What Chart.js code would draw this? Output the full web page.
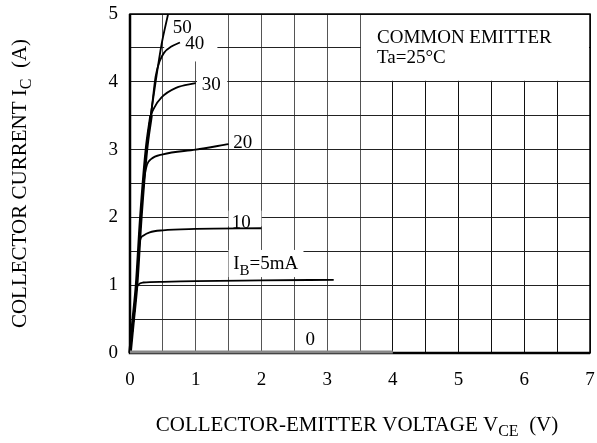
<!DOCTYPE html>
<html>
<head>
<meta charset="utf-8">
<script src="https://cdn.jsdelivr.net/npm/chart.js@4"></script>
<style>
  body { margin: 0; background: #fff; }
  #wrap { width: 597px; height: 443px; }
</style>
</head>
<body>
<div id="wrap"><canvas id="myChart"></canvas></div>
<script>
// collector current curves (V, A)
const ib0V = [0, 4];
const ib0I = [0, 0];
const ib5V = [0, 0.05, 0.1, 0.13, 0.2, 0.5, 1, 2, 3.1];
const ib5I = [0, 0.5, 0.95, 1.01, 1.04, 1.05, 1.06, 1.07, 1.08];
const ib10V = [0, 0.05, 0.1, 0.15, 0.2, 0.3, 0.5, 1, 2];
const ib10I = [0, 0.5, 1, 1.65, 1.73, 1.78, 1.81, 1.83, 1.84];
const ib20V = [0, 0.1, 0.165, 0.22, 0.26, 0.32, 0.5, 1, 1.5];
const ib20I = [0, 1, 2, 2.6, 2.78, 2.86, 2.93, 3.0, 3.08];
const ib30V = [0, 0.1, 0.165, 0.25, 0.32, 0.37, 0.48, 0.7, 1];
const ib30I = [0, 1, 2, 3, 3.5, 3.62, 3.77, 3.91, 3.98];
const ib40V = [0, 0.1, 0.165, 0.25, 0.33, 0.39, 0.45, 0.52, 0.63, 0.76];
const ib40I = [0, 1, 2, 3, 3.6, 4.08, 4.3, 4.43, 4.52, 4.58];
const ib50V = [0, 0.1, 0.165, 0.25, 0.33, 0.39, 0.48, 0.58];
const ib50I = [0, 1, 2, 3, 3.6, 4.0, 4.55, 5];
// shared saturation part (drawn thick)
const satV = [0, 0.05, 0.1, 0.165, 0.25, 0.32];
const satI = [0, 0.5, 1, 2, 3, 3.5];

const xTicks = [0, 1, 2, 3, 4, 5, 6, 7];
const yTicks = [0, 1, 2, 3, 4, 5];

// curve labels: text, [x,y] of baseline start, white box [x0,x1,y0,y1]
const curveLabels = [
  { t: "50", at: [0.65, 4.72], box: null },
  { t: "40", at: [0.84, 4.49], box: [0.52, 1.33, 4.3, 5] },
  { t: "30", at: [1.09, 3.88], box: [1.02, 1.48, 3.8, 4.2] },
  { t: "20", at: [1.57, 3.03], box: null },
  { t: "10", at: [1.55, 1.85], box: [1.5, 2.0, 1.87, 2.1] },
  { t: "I", sub: "B", rest: "=5mA", at: [1.57, 1.235], box: [1.5, 2.64, 1.12, 1.52] },
  { t: "0", at: [2.67, 0.12], box: null }
];

const F = "'Liberation Serif', 'Times New Roman', serif";

function pts(xs, ys) { return xs.map((v, i) => ({ x: v, y: ys[i] })); }

function curve(xs, ys, w, col) {
  return {
    data: pts(xs, ys),
    borderColor: col || "#000",
    borderWidth: w || 1.8,
    pointRadius: 0,
    showLine: true,
    cubicInterpolationMode: "monotone",
    fill: false,
    clip: false
  };
}

function subText(ctx, parts, x, y, align) {
  // parts: [text, isSub]
  let total = 0;
  parts.forEach(p => {
    ctx.font = (p[1] ? "16px " : "21px ") + F;
    total += ctx.measureText(p[0]).width;
  });
  let cx = align === "center" ? x - total / 2 : x;
  parts.forEach(p => {
    ctx.font = (p[1] ? "16px " : "21px ") + F;
    ctx.fillText(p[0], cx, p[1] ? y + 5 : y);
    cx += ctx.measureText(p[0]).width;
  });
}

const decor = {
  id: "decor",
  beforeDatasetsDraw(chart) {
    const ctx = chart.ctx, xs = chart.scales.x, ys = chart.scales.y, a = chart.chartArea;
    ctx.save();
    ctx.fillStyle = "#fff";
    // inset box area
    ctx.fillRect(xs.getPixelForValue(3.5) + 1, a.top + 1, a.right - xs.getPixelForValue(3.5) - 2, ys.getPixelForValue(4) - a.top - 2);
    curveLabels.forEach(l => {
      if (!l.box) return;
      const x0 = xs.getPixelForValue(l.box[0]), x1 = xs.getPixelForValue(l.box[1]);
      const y0 = ys.getPixelForValue(l.box[3]), y1 = ys.getPixelForValue(l.box[2]);
      ctx.fillRect(x0, Math.max(y0, a.top + 1), x1 - x0, y1 - Math.max(y0, a.top + 1));
    });
    ctx.restore();
  },
  afterDatasetsDraw(chart) {
    const ctx = chart.ctx, xs = chart.scales.x, ys = chart.scales.y, a = chart.chartArea;
    ctx.save();
    // frame
    ctx.strokeStyle = "#000";
    ctx.lineWidth = 1.5;
    ctx.strokeRect(a.left, a.top, a.right - a.left, a.bottom - a.top);
    ctx.lineWidth = 2.5;
    ctx.beginPath();
    ctx.moveTo(a.left, a.top); ctx.lineTo(a.left, a.bottom); ctx.lineTo(a.right, a.bottom);
    ctx.stroke();
    // I_B = 0 curve on the axis
    ctx.strokeStyle = "#888";
    ctx.lineWidth = 3;
    ctx.beginPath();
    ctx.moveTo(xs.getPixelForValue(ib0V[0]), ys.getPixelForValue(ib0I[0]) - 1);
    ctx.lineTo(xs.getPixelForValue(ib0V[1]), ys.getPixelForValue(ib0I[1]) - 1);
    ctx.stroke();

    ctx.fillStyle = "#000";
    ctx.textBaseline = "alphabetic";
    ctx.textAlign = "left";
    ctx.font = "19px " + F;
    ctx.fillText("COMMON EMITTER", 377, 43);
    ctx.fillText("Ta=25\u00B0C", 377, 63);

    curveLabels.forEach(l => {
      const px = xs.getPixelForValue(l.at[0]), py = ys.getPixelForValue(l.at[1]);
      ctx.font = "19px " + F;
      if (l.sub) {
        ctx.fillText(l.t, px, py);
        let w = ctx.measureText(l.t).width;
        ctx.font = "15px " + F;
        ctx.fillText(l.sub, px + w, py + 6);
        w += ctx.measureText(l.sub).width;
        ctx.font = "19px " + F;
        ctx.fillText(l.rest, px + w, py);
      } else {
        ctx.fillText(l.t, px, py);
      }
    });

    // axis titles
    subText(ctx, [["COLLECTOR-EMITTER VOLTAGE V", false], ["CE", true], ["  (V)", false]], (a.left + a.right) / 2 - 3, 431, "center");
    ctx.translate(26, (a.top + a.bottom) / 2);
    ctx.rotate(-Math.PI / 2);
    subText(ctx, [["COLLECTOR CURRENT I", false], ["C", true], ["  (A)", false]], 0, 0, "center");
    ctx.restore();
  }
};

new Chart(document.getElementById("myChart"), {
  type: "scatter",
  data: {
    datasets: [
      curve(satV, satI, 3.5),
      curve(ib5V, ib5I),
      curve(ib10V, ib10I),
      curve(ib20V, ib20I),
      curve(ib30V, ib30I),
      curve(ib40V, ib40I),
      curve(ib50V, ib50I)
    ]
  },
  options: {
    responsive: true,
    maintainAspectRatio: false,
    animation: false,
    layout: { padding: { top: 14, right: 7, left: 0, bottom: 0 } },
    plugins: { legend: { display: false }, tooltip: { enabled: false } },
    scales: {
      x: {
        type: "linear", min: 0, max: 7,
        afterFit(s) { s.height = 90; s.paddingLeft = 0; s.paddingRight = 0; },
        ticks: {
          stepSize: 0.5, autoSkip: false, padding: 16, maxRotation: 0,
          color: "#000", font: { family: F, size: 19 },
          callback: v => xTicks.includes(v) ? String(v) : ""
        },
        grid: { color: ctx => ctx.tick && ctx.tick.value <= 3.5 ? "#555" : "#111", lineWidth: 1, drawTicks: false },
        border: { display: false }
      },
      y: {
        type: "linear", min: 0, max: 5,
        afterFit(s) { s.width = 130; s.paddingTop = 0; s.paddingBottom = 0; },
        ticks: {
          stepSize: 0.5, autoSkip: false, padding: 12,
          color: "#000", font: { family: F, size: 19 },
          callback: v => yTicks.includes(v) ? String(v) : ""
        },
        grid: { color: "#222", lineWidth: 1, drawTicks: false },
        border: { display: false }
      }
    }
  },
  plugins: [decor]
});
</script>
</body>
</html>
